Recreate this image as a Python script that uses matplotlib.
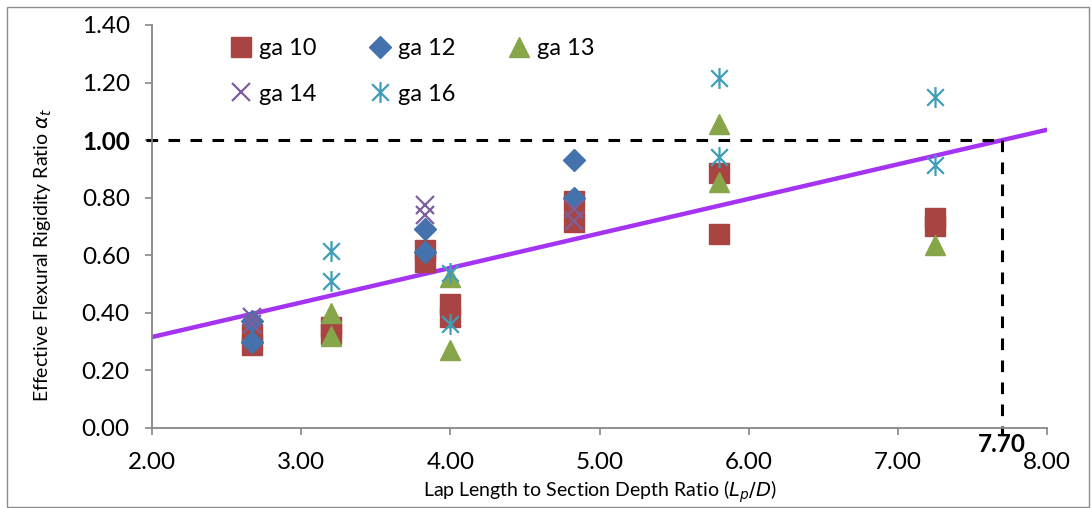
import matplotlib
matplotlib.use("Agg")
import matplotlib.pyplot as plt
from matplotlib.path import Path
from matplotlib.patches import Rectangle
import numpy as np

# ---- data: lap-length ratio (Lp/D) vs effective flexural rigidity ratio ----
ga10_x = [2.67, 2.67, 3.20, 3.20, 3.83, 3.83, 4.00, 4.00, 4.83, 4.83, 5.80, 5.80, 7.25, 7.25]
ga10_y = [0.325, 0.29, 0.35, 0.325, 0.62, 0.575, 0.43, 0.385, 0.79, 0.715, 0.885, 0.675, 0.73, 0.70]

ga12_x = [2.67, 2.67, 3.83, 3.83, 4.83, 4.83]
ga12_y = [0.37, 0.30, 0.69, 0.61, 0.93, 0.80]

ga13_x = [3.20, 3.20, 4.00, 4.00, 5.80, 5.80, 7.25]
ga13_y = [0.40, 0.32, 0.525, 0.27, 1.055, 0.855, 0.635]

ga14_x = [2.67, 2.67, 3.83, 3.83, 4.83, 4.83]
ga14_y = [0.385, 0.36, 0.775, 0.74, 0.76, 0.72]

ga16_x = [3.20, 3.20, 4.00, 4.00, 5.80, 5.80, 7.25, 7.25]
ga16_y = [0.615, 0.51, 0.54, 0.36, 1.215, 0.94, 1.15, 0.915]

# linear fit line: alpha = slope * (Lp/D) + intercept
fit_slope = 0.12
fit_intercept = 0.076
fit_range = [2.0, 8.0]

limit_ratio = 7.70
limit_alpha = 1.00

x_ticks = [2.0, 3.0, 4.0, 5.0, 6.0, 7.0, 8.0]
y_ticks = [0.0, 0.2, 0.4, 0.6, 0.8, 1.0, 1.2, 1.4]

plt.rcParams['font.family'] = ['Lato', 'DejaVu Sans']
plt.rcParams['mathtext.fontset'] = 'dejavusans'

fig = plt.figure(figsize=(10.92, 5.08), dpi=100)
ax = fig.add_axes([0.1392, 0.1575, 0.8196, 0.7933])

# chart-area border
fig.patches.append(Rectangle((7 / 1092, 1 / 508), 1082 / 1092, 500 / 508,
                             transform=fig.transFigure, fill=False,
                             edgecolor='#8c8c8c', linewidth=1.0))

# asterisk marker: X with a vertical bar
star_path = Path([(-1, -1), (1, 1), (-1, 1), (1, -1), (0, -1.25), (0, 1.25)],
                 [Path.MOVETO, Path.LINETO] * 3)

c_red = '#A84542'
c_blue = '#4472AC'
c_green = '#87A64A'
c_purple = '#7D5E9E'
c_teal = '#3E9EB8'

h10, = ax.plot(ga10_x, ga10_y, linestyle='none', marker='s', markersize=14,
               color=c_red, markeredgecolor=c_red, label='ga 10', zorder=3)
h12, = ax.plot(ga12_x, ga12_y, linestyle='none', marker='D', markersize=11,
               color=c_blue, markeredgecolor=c_blue, label='ga 12', zorder=4)
h13, = ax.plot(ga13_x, ga13_y, linestyle='none', marker='^', markersize=15,
               color=c_green, markeredgecolor=c_green, label='ga 13', zorder=5)
h14, = ax.plot(ga14_x, ga14_y, linestyle='none', marker='x', markersize=13,
               markeredgewidth=1.6, color=c_purple, label='ga 14', zorder=6)
h16, = ax.plot(ga16_x, ga16_y, linestyle='none', marker=star_path, markersize=15,
               markeredgewidth=1.6, color=c_teal, markerfacecolor='none',
               label='ga 16', zorder=7)

# trend line
fx = np.array(fit_range)
ax.plot(fx, fit_slope * fx + fit_intercept, color='#A533F2', linewidth=3.2,
        solid_capstyle='round', zorder=2)

# limit lines
ax.plot([1.96, limit_ratio], [limit_alpha, limit_alpha], color='black',
        linewidth=2.2, linestyle=(0, (3.8, 3.4)), clip_on=False, zorder=2)
ax.plot([limit_ratio, limit_ratio], [limit_alpha, -0.02], color='black',
        linewidth=2.2, linestyle=(0, (3.8, 3.4)), clip_on=False, zorder=2)

ax.set_xlim(2.0, 8.0)
ax.set_ylim(0.0, 1.4)
ax.set_xticks(x_ticks)
ax.set_yticks(y_ticks)
ax.set_xticklabels([f'{v:.2f}' for v in x_ticks])
ax.set_yticklabels([f'{v:.2f}' for v in y_ticks])

for side in ['top', 'right']:
    ax.spines[side].set_visible(False)
for side in ['left', 'bottom']:
    ax.spines[side].set_color('#878787')
    ax.spines[side].set_linewidth(1.3)
ax.tick_params(axis='both', direction='out', length=5, width=1.2,
               color='#878787', labelsize=17.5, labelcolor='black')
ax.tick_params(axis='x', pad=12)
ax.tick_params(axis='y', pad=11)

# highlight the 1.00 tick
idx = y_ticks.index(1.0)
lab = ax.get_yticklabels()[idx]
lab.set_fontweight('bold')
ax.yaxis.get_major_ticks()[idx].tick1line.set_color('black')

ax.text(limit_ratio, -0.018, f'{limit_ratio:.2f}', ha='center', va='top',
        fontsize=17.5, fontweight='bold', color='black',
        transform=ax.transData)

ax.set_xlabel(r'Lap Length to Section Depth Ratio ($L_p/D$)', fontsize=14)
ax.set_ylabel(r'Effective Flexural Rigidity Ratio $\alpha_t$', fontsize=14)
ax.yaxis.set_label_coords(-0.11, 0.43)
ax.xaxis.set_label_coords(0.5, -0.125)

handles = [h10, h14, h12, h16, h13]
ax.legend(handles=handles, labels=[h.get_label() for h in handles], ncol=3,
          loc='upper left', bbox_to_anchor=(0.077, 0.99), frameon=False,
          fontsize=17, handlelength=0.9, handletextpad=0.3,
          columnspacing=2.25, labelspacing=1.02, borderaxespad=0)

fig.savefig('out.png', dpi=100)
